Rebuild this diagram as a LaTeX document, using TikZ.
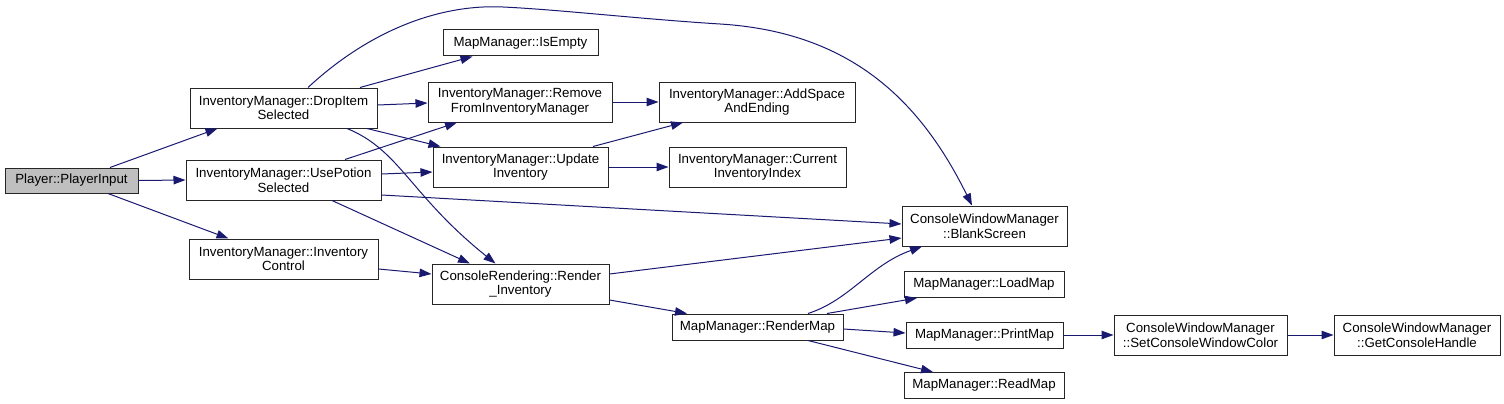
\documentclass[tikz,border=0pt]{standalone}
\usepackage{fontspec}
\setmainfont{Liberation Sans}
\usetikzlibrary{arrows.meta}
\definecolor{edgeblue}{HTML}{191970}
\definecolor{boxgray}{HTML}{BFBFBF}
\begin{document}
\begin{tikzpicture}[x=1pt,y=-1pt,
  fn/.style={draw=black!85, line width=1pt, fill=white, inner sep=0pt, align=center,
    font=\fontsize{13.3pt}{14.5pt}\selectfont, text=black},
  sz/.style n args={2}{minimum width=#1, minimum height=#2},
  call/.style={draw=edgeblue, line width=1pt, -{Triangle[length=12pt,width=8.5pt]}}]
\useasboundingbox (0,0) rectangle (1504,404);
% nodes
\node[fn, sz={133pt}{25pt}, fill=boxgray] (player) at (71.5,180.5) {Player::PlayerInput};
\node[fn, sz={187pt}{40pt}] (drop) at (283.5,108) {InventoryManager::DropItem\\Selected};
\node[fn, sz={195pt}{40pt}] (use) at (283.5,180) {InventoryManager::UsePotion\\Selected};
\node[fn, sz={189pt}{40pt}] (ictl) at (283.5,259) {InventoryManager::Inventory\\Control};
\node[fn, sz={155pt}{26pt}] (isempty) at (520.5,43) {MapManager::IsEmpty};
\node[fn, sz={184pt}{40pt}] (remove) at (520,102) {InventoryManager::Remove\\FromInventoryManager};
\node[fn, sz={175pt}{40pt}] (update) at (520.5,167) {InventoryManager::Update\\Inventory};
\node[fn, sz={196pt}{40pt}] (addspace) at (757,102) {InventoryManager::AddSpace\\AndEnding};
\node[fn, sz={177pt}{40pt}] (current) at (757.5,167) {InventoryManager::Current\\InventoryIndex};
\node[fn, sz={177pt}{40pt}] (render) at (520.5,284) {ConsoleRendering::Render\\\_Inventory};
\node[fn, sz={165pt}{40pt}] (blank) at (984.5,226) {ConsoleWindowManager\\::BlankScreen};
\node[fn, sz={171pt}{26pt}] (rendermap) at (757.5,327) {MapManager::RenderMap};
\node[fn, sz={160pt}{26pt}] (loadmap) at (984,284.5) {MapManager::LoadMap};
\node[fn, sz={157pt}{26pt}] (printmap) at (984.5,335) {MapManager::PrintMap};
\node[fn, sz={160pt}{26pt}] (readmap) at (984,385.5) {MapManager::ReadMap};
\node[fn, sz={173pt}{40pt}] (setcolor) at (1200.5,335) {ConsoleWindowManager\\::SetConsoleWindowColor};
\node[fn, sz={166pt}{40pt}] (gethandle) at (1417,335) {ConsoleWindowManager\\::GetConsoleHandle};
% edges
\draw[call] ([xshift=38.5pt]player.north) -- ([xshift=-66pt]drop.south);
\draw[call] (player.east) -- (use.west);
\draw[call] ([xshift=36.5pt]player.south) -- ([xshift=-55pt]ictl.north);
\draw[call] ([xshift=76.5pt]drop.north) -- ([xshift=-48pt]isempty.south);
\draw[call] ([xshift=24.5pt]drop.north) .. controls (370,30) and (440,4) .. (503,7)
  .. controls (560,9.7) and (640,19) .. (720,24)
  .. controls (850,32) and (920,100) .. ([xshift=-12.5pt]blank.north);
\draw[call] ([yshift=3pt]drop.east) -- ([yshift=-1pt]remove.west);
\draw[call] ([xshift=83.5pt]drop.south) -- ([xshift=-80pt]update.north);
\draw[call] ([xshift=63.5pt]drop.south) .. controls (400,150) and (410,195) .. ([xshift=-25pt]render.north);
\draw[call] ([xshift=61.5pt]use.north) -- ([xshift=-63pt]remove.south);
\draw[call] ([yshift=6pt]use.east) -- ([yshift=-5pt]update.west);
\draw[call] ([yshift=-15pt]use.east) -- ([yshift=2pt]blank.west);
\draw[call] ([xshift=48.5pt]use.south) -- ([xshift=-50.5pt]render.north);
\draw[call] ([yshift=-10pt]ictl.east) -- ([yshift=10pt]render.west);
\draw[call] (remove.east) -- (addspace.west);
\draw[call] ([xshift=72.5pt]update.north) -- ([xshift=-74pt]addspace.south);
\draw[call] (update.east) -- (current.west);
\draw[call] ([yshift=10pt]render.east) -- ([yshift=-12pt]blank.west);
\draw[call] ([yshift=-16pt]render.east) -- ([xshift=-70.5pt]rendermap.north);
\draw[call] ([xshift=50.5pt]rendermap.north) .. controls (850,300) and (870,265) .. ([xshift=-62.5pt]blank.south);
\draw[call] ([xshift=69.5pt]rendermap.north) -- ([xshift=-67pt]loadmap.south);
\draw[call] ([yshift=-2pt]rendermap.east) -- ([yshift=2pt]printmap.west);
\draw[call] ([xshift=50.5pt]rendermap.south) -- ([xshift=-51pt]readmap.north);
\draw[call] (printmap.east) -- (setcolor.west);
\draw[call] (setcolor.east) -- (gethandle.west);
\end{tikzpicture}
\end{document}
